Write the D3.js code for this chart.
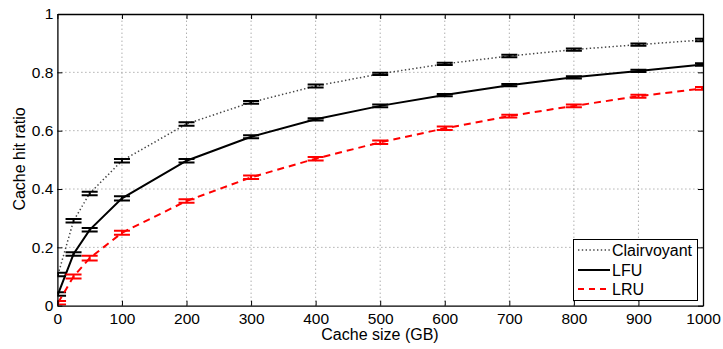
<html lang="en">
<head>
    <meta charset="UTF-8">
    <script src="https://d3js.org/d3.v7.min.js"></script>
    <title>Cache hit ratio</title>
    <style>
        body { margin: 0; background: #fff; }
        svg { font-family: "Liberation Sans", Arial, sans-serif; }
    </style>
</head>
<body>
<section></section>
<script>
    // cache sizes (GB)
    const sizes = [1, 25, 50, 100, 200, 300, 400, 500, 600, 700, 800, 900, 1000];

    const clairvoyant = [0.107, 0.291, 0.385, 0.497, 0.623, 0.697, 0.753, 0.795, 0.829, 0.856, 0.878, 0.895, 0.911];
    const lfu = [0.040, 0.177, 0.260, 0.368, 0.497, 0.579, 0.639, 0.685, 0.722, 0.756, 0.783, 0.805, 0.827];
    const lru = [0.010, 0.100, 0.163, 0.250, 0.359, 0.440, 0.504, 0.560, 0.608, 0.650, 0.685, 0.718, 0.745];

    // half-width of the error bars
    const clairvoyantErr = [0.006, 0.006, 0.006, 0.006, 0.006, 0.005, 0.005, 0.004, 0.004, 0.004, 0.004, 0.004, 0.004];
    const lfuErr = [0.006, 0.006, 0.006, 0.007, 0.006, 0.005, 0.004, 0.005, 0.004, 0.004, 0.004, 0.004, 0.004];
    const lruErr = [0.006, 0.007, 0.008, 0.007, 0.006, 0.006, 0.006, 0.006, 0.006, 0.005, 0.005, 0.005, 0.005];

    const xTicks = [0, 100, 200, 300, 400, 500, 600, 700, 800, 900, 1000];
    const yTicks = [0, 0.2, 0.4, 0.6, 0.8, 1];

    const w = 723;
    const h = 349;
    const m = { left: 57.4, right: 20, top: 14, bottom: 43.3 };

    const svg = d3.select('section')
        .append('svg')
        .attr('width', w)
        .attr('height', h);

    const x = d3.scaleLinear().domain([0, 1000]).range([m.left, w - m.right]);
    const y = d3.scaleLinear().domain([0, 1]).range([h - m.bottom, m.top]);

    svg.append('clipPath').attr('id', 'plot')
        .append('rect')
        .attr('x', m.left).attr('y', m.top)
        .attr('width', x(1000) - x(0)).attr('height', y(0) - y(1));

    // grid
    const grid = svg.append('g')
        .attr('stroke', '#8a8a8a')
        .attr('stroke-width', 1)
        .attr('stroke-dasharray', '1,3');
    grid.selectAll('.gx')
        .data(xTicks.slice(1, -1))
        .enter().append('line')
        .attr('x1', d => x(d)).attr('x2', d => x(d))
        .attr('y1', y(0)).attr('y2', y(1));
    grid.selectAll('.gy')
        .data(yTicks.slice(1, -1))
        .enter().append('line')
        .attr('x1', x(0)).attr('x2', x(1000))
        .attr('y1', d => y(d)).attr('y2', d => y(d));

    const series = [
        { name: 'Clairvoyant', vals: clairvoyant, err: clairvoyantErr, color: '#444', width: 1.5, dash: '1.4,2.4', barColor: '#000' },
        { name: 'LFU', vals: lfu, err: lfuErr, color: '#000', width: 2, dash: null, barColor: '#000' },
        { name: 'LRU', vals: lru, err: lruErr, color: '#ff0000', width: 2, dash: '7,5', barColor: '#ff0000' }
    ];

    const plot = svg.append('g').attr('clip-path', 'url(#plot)');
    const line = d3.line().x(d => x(d[0])).y(d => y(d[1]));

    series.forEach(s => {
        const pts = sizes.map((d, i) => [d, s.vals[i]]);
        plot.append('path')
            .datum(pts)
            .attr('fill', 'none')
            .attr('stroke', s.color)
            .attr('stroke-width', s.width)
            .attr('stroke-dasharray', s.dash)
            .attr('d', line);

        // error bars
        const eb = plot.append('g')
            .attr('stroke', s.barColor)
            .attr('stroke-width', 2);
        sizes.forEach((d, i) => {
            const cx = x(d);
            const lo = y(s.vals[i] - s.err[i]);
            const hi = y(s.vals[i] + s.err[i]);
            eb.append('line').attr('x1', cx).attr('x2', cx).attr('y1', lo).attr('y2', hi);
            eb.append('line').attr('x1', cx - 8).attr('x2', cx + 8).attr('y1', lo).attr('y2', lo);
            eb.append('line').attr('x1', cx - 8).attr('x2', cx + 8).attr('y1', hi).attr('y2', hi);
        });
    });

    // axes (matlab style box, inward ticks)
    const tickLen = 5;
    const xAxis = d3.axisBottom(x).tickValues(xTicks).tickSizeInner(-tickLen).tickSizeOuter(0).tickPadding(8).tickFormat(d3.format('d'));
    const yAxis = d3.axisLeft(y).tickValues(yTicks).tickSizeInner(-tickLen).tickSizeOuter(0).tickPadding(8).tickFormat(d => d === 0 || d === 1 ? d : d3.format('.1f')(d));

    svg.append('g')
        .attr('id', 'x-axis')
        .attr('transform', 'translate(0,' + y(0) + ')')
        .call(xAxis);
    svg.append('g')
        .attr('id', 'y-axis')
        .attr('transform', 'translate(' + x(0) + ',0)')
        .call(yAxis);
    svg.append('g')
        .attr('transform', 'translate(0,' + y(1) + ')')
        .call(d3.axisTop(x).tickValues(xTicks).tickSizeInner(-tickLen).tickSizeOuter(0).tickFormat(''));
    svg.append('g')
        .attr('transform', 'translate(' + x(1000) + ',0)')
        .call(d3.axisRight(y).tickValues(yTicks).tickSizeInner(-tickLen).tickSizeOuter(0).tickFormat(''));

    svg.selectAll('.domain').attr('stroke', '#000').attr('stroke-width', 1.3);
    svg.selectAll('.tick line').attr('stroke', '#000').attr('stroke-width', 1);
    svg.selectAll('.tick text').attr('font-size', 15.5).attr('fill', '#000')
        .attr('font-family', '"Liberation Sans", Arial, sans-serif');
    svg.select('#y-axis').selectAll('.tick text').attr('dx', 4);
    svg.select('#x-axis').selectAll('.tick text').attr('dy', '0.66em');

    // axis titles
    svg.append('text')
        .attr('x', 380).attr('y', 340)
        .attr('text-anchor', 'middle')
        .attr('font-size', 16)
        .text('Cache size (GB)');
    svg.append('text')
        .attr('transform', 'translate(25,159) rotate(-90)')
        .attr('text-anchor', 'middle')
        .attr('font-size', 16)
        .text('Cache hit ratio');

    // legend
    const lg = svg.append('g');
    lg.append('rect')
        .attr('x', 573.5).attr('y', 239.5)
        .attr('width', 124).attr('height', 61)
        .attr('fill', '#fff').attr('stroke', '#000').attr('stroke-width', 1);
    const ly = [250, 270, 289];
    series.forEach((s, i) => {
        lg.append('line')
            .attr('x1', 578).attr('x2', 610)
            .attr('y1', ly[i]).attr('y2', ly[i])
            .attr('stroke', s.color)
            .attr('stroke-width', s.width)
            .attr('stroke-dasharray', s.dash === '7,5' ? '6,5' : s.dash);
        lg.append('text')
            .attr('x', 612).attr('y', ly[i])
            .attr('dy', '0.36em')
            .attr('font-size', 16)
            .text(s.name);
    });
</script>
</body>
</html>
